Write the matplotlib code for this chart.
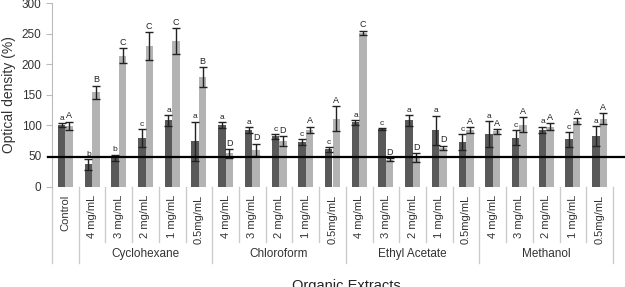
import matplotlib
matplotlib.use("Agg")
import matplotlib.pyplot as plt
import numpy as np
from matplotlib.transforms import blended_transform_factory

plt.rcParams['font.family'] = ['Liberation Sans', 'DejaVu Sans']

tick_labels = ["Control",
               "4 mg/mL", "3 mg/mL", "2 mg/mL", "1 mg/mL", "0.5mg/mL",
               "4 mg/mL", "3 mg/mL", "2 mg/mL", "1 mg/mL", "0.5mg/mL",
               "4 mg/mL", "3 mg/mL", "2 mg/mL", "1 mg/mL", "0.5mg/mL",
               "4 mg/mL", "3 mg/mL", "2 mg/mL", "1 mg/mL", "0.5mg/mL"]
groups = ["Cyclohexane", "Chloroform", "Ethyl Acetate", "Methanol"]

dark_vals = [100, 36, 47, 79, 108, 74, 100, 92, 82, 73, 61, 105, 94, 108, 92, 73, 86, 80, 93, 77, 83]
dark_err = [3, 9, 5, 15, 9, 32, 5, 5, 4, 5, 4, 4, 1, 9, 24, 13, 21, 12, 5, 12, 16]
dark_letters = ["a", "b", "b", "c", "a", "a", "a", "a", "c", "c", "c",
                "a", "c", "a", "a", "c", "a", "c", "a", "c", "a"]

light_vals = [99, 154, 214, 230, 238, 179, 54, 60, 75, 93, 111, 251, 44, 47, 63, 92, 90, 101, 98, 107, 111]
light_err = [7, 11, 12, 23, 21, 16, 7, 10, 8, 5, 20, 4, 3, 7, 4, 5, 4, 12, 5, 5, 9]
light_letters = ["A", "B", "C", "C", "C", "B", "D", "D", "D", "A", "A",
                 "C", "D", "D", "D", "A", "A", "A", "A", "A", "A"]

threshold = 49

fig = plt.figure(figsize=(6.25, 2.87), dpi=100)
ax = fig.add_axes([52/625, 1-186.5/287, (613-52)/625, 183.5/287])

x = np.arange(len(tick_labels))
w = 0.28
dark_c = "#595959"
light_c = "#b3b3b3"
ax.bar(x - w/2, dark_vals, w, color=dark_c, yerr=dark_err, capsize=3,
       error_kw=dict(ecolor="#222222", elinewidth=1, capthick=1))
ax.bar(x + w/2, light_vals, w, color=light_c, yerr=light_err, capsize=3,
       error_kw=dict(ecolor="#222222", elinewidth=1, capthick=1))

for i in range(len(x)):
    ax.text(x[i] - w/2, dark_vals[i] + dark_err[i] + 2, dark_letters[i],
            ha="center", va="bottom", fontsize=6, color="#222222")
    ax.text(x[i] + w/2, light_vals[i] + light_err[i] + 2, light_letters[i],
            ha="center", va="bottom", fontsize=6.5, color="#222222")

ax.set_xlim(-0.5, len(x) - 0.5)
ax.set_ylim(0, 300)
ax.set_yticks([0, 50, 100, 150, 200, 250, 300])
ax.tick_params(axis="y", labelsize=8.5, length=4, color="#bbbbbb", labelcolor="#333333")
ax.set_xticks(x)
ax.set_xticklabels(tick_labels, rotation=90, fontsize=8, color="#333333", va="top")
ax.tick_params(axis="x", length=0, pad=6)

for s in ["top", "right", "bottom"]:
    ax.spines[s].set_visible(False)
ax.spines["left"].set_color("#bbbbbb")

ax.set_ylabel("Optical density (%)", fontsize=10, color="#333333", labelpad=4)

# threshold line spanning beyond the axes
trans_h = blended_transform_factory(fig.transFigure, ax.transData)
ax.plot([48/625, 1.0], [threshold, threshold], color="black", lw=1.6,
        transform=trans_h, clip_on=False, zorder=5)

# category table lines below the axis
trans = blended_transform_factory(ax.transData, ax.transAxes)
inner_bottom = -(242 - 186.5) / 183.5
group_bottom = -(263 - 186.5) / 183.5
group_edges = [-0.5, 0.5, 5.5, 10.5, 15.5, 20.5]
for b in np.arange(-0.5, len(x), 1.0):
    bottom = group_bottom if b in group_edges else inner_bottom
    ax.plot([b, b], [0, bottom], color="#cccccc", lw=1, transform=trans, clip_on=False)

for gi, g in enumerate(groups):
    cx = 1 + gi * 5 + 2
    ax.text(cx, -(254 - 186.5) / 183.5, g, transform=trans, ha="center", va="center",
            fontsize=8.5, color="#333333")

fig.text(346/625, 1 - 279/287, "Organic Extracts", ha="center", va="top",
         fontsize=10.5, color="#222222")

fig.savefig("out.png", dpi=100)
